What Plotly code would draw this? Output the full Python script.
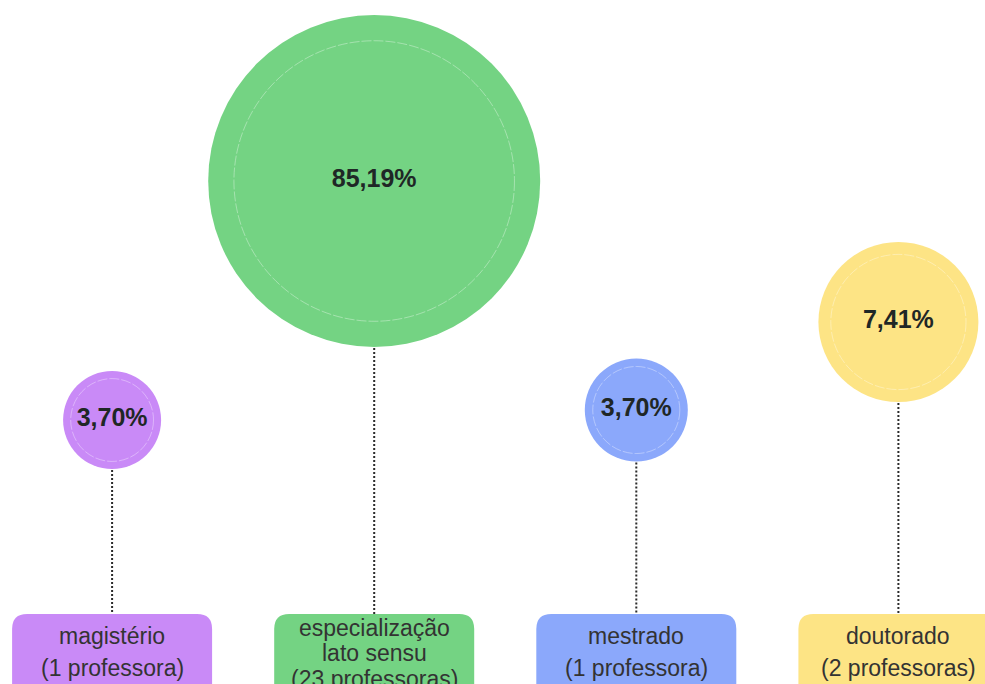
import plotly.graph_objects as go

# ---- data ----
categories = ["magistério", "especialização lato sensu", "mestrado", "doutorado"]
box_lines = [["magistério"], ["especialização", "lato sensu"], ["mestrado"], ["doutorado"]]
percentages = [3.70, 85.19, 3.70, 7.41]
teachers = [1, 23, 1, 2]

# ---- style / layout ----
colors = ["#C98AF7", "#74D383", "#8BA8FB", "#FDE485"]
bubble_y = [420, 181, 410, 322]        # pixel rows of bubble centres (page coords)
bubble_d = [98, 332, 103, 160]         # bubble diameters (px)
W, H = 985, 684
X0_PX, STEP_PX = 112.1, 262.1          # page pixel of index 0 and spacing
BOX_TOP, BOX_W, BOX_R = 614, 200, 15

idx = list(range(len(categories)))
x_range = [(0 - X0_PX) / STEP_PX, (W - X0_PX) / STEP_PX]
u = 1.0 / STEP_PX  # index units per pixel


def pct_text(v):
    return "<b>" + f"{v:.2f}".replace(".", ",") + "%</b>"


def count_text(n):
    return f"({n} professora{'s' if n != 1 else ''})"


fig = go.Figure()

shapes = []
annotations = []
for i, d, y, c, n, lines in zip(idx, bubble_d, bubble_y, colors, teachers, box_lines):
    r = d / 2
    # dotted connector
    shapes.append(dict(type="line", xref="x", yref="y", x0=i, x1=i, y0=y + r + 1, y1=BOX_TOP,
                       line=dict(color="#2b2b2b", width=2, dash="2px,2px"), layer="below"))
    # inner faint ring
    rr = r * 0.845
    shapes.append(dict(type="circle", xref="x", yref="y", x0=i - rr * u, x1=i + rr * u,
                       y0=y - rr, y1=y + rr,
                       line=dict(color="rgba(255,255,255,0.35)", width=1, dash="10px,2px"),
                       layer="above"))
    # rounded box
    xl, xr = i - (BOX_W / 2) * u, i + (BOX_W / 2) * u
    yt, yb = BOX_TOP, H + 30
    rx, ry = BOX_R * u, BOX_R
    path = (f"M {xl + rx},{yt} L {xr - rx},{yt} Q {xr},{yt} {xr},{yt + ry} "
            f"L {xr},{yb} L {xl},{yb} L {xl},{yt + ry} Q {xl},{yt} {xl + rx},{yt} Z")
    shapes.append(dict(type="path", xref="x", yref="y", path=path, fillcolor=c,
                       line=dict(width=0), layer="below"))
    # box text
    all_lines = lines + [count_text(n)]
    if len(all_lines) == 2:
        ys = [636, 668]
    else:
        ys = [628, 653, 679]
    for t, ty in zip(all_lines, ys):
        annotations.append(dict(x=i, y=ty, xref="x", yref="y", text=t, showarrow=False,
                                xanchor="center", yanchor="middle",
                                font=dict(family="Liberation Sans, Arial", size=23, color="#333333")))

fig.add_trace(go.Scatter(
    x=idx, y=bubble_y, mode="markers+text",
    marker=dict(size=bubble_d, color=colors, line=dict(width=0), opacity=1),
    text=[pct_text(p) for p in percentages], textposition="middle center",
    textfont=dict(family="Liberation Sans, Arial", size=25, color="#1f2726"),
    hovertext=categories, hoverinfo="text", showlegend=False, cliponaxis=False,
))

fig.update_layout(
    width=W, height=H, margin=dict(l=0, r=0, t=0, b=0),
    paper_bgcolor="white", plot_bgcolor="white",
    xaxis=dict(range=x_range, visible=False, fixedrange=True),
    yaxis=dict(range=[H, 0], visible=False, fixedrange=True),
    shapes=shapes, annotations=annotations, showlegend=False,
)

fig.write_html(
    "out.html",
    config={"displayModeBar": False},
    post_script="document.body.style.margin='0';document.body.style.overflow='hidden';",
)
